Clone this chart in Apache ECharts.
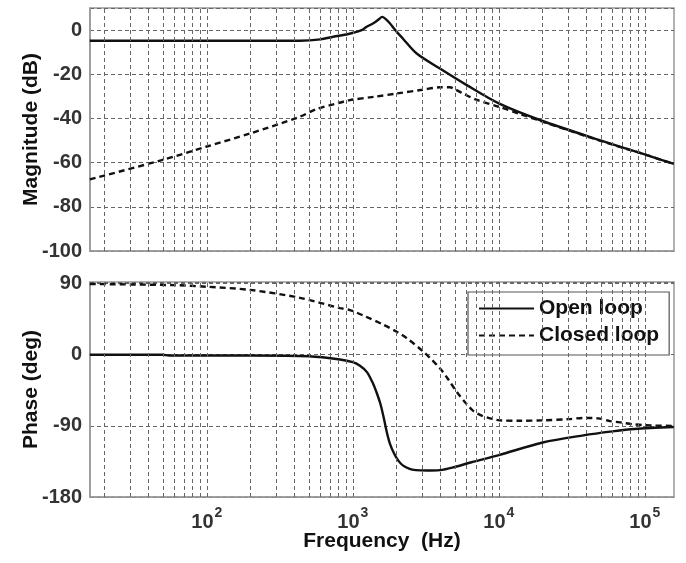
<!DOCTYPE html>
<html><head><meta charset="utf-8">
<script src="https://cdn.jsdelivr.net/npm/echarts@6/dist/echarts.min.js"></script>
<style>html,body{margin:0;padding:0;background:#fff}#c{width:686px;height:563px}</style>
</head><body><div id="c"></div>
<script>
// ---- data (frequency in Hz) ----
const magOpenFreq = [15.8, 50, 100, 200, 434, 600, 735, 900, 1007, 1150, 1245, 1400, 1500, 1590, 1660, 1800, 1900, 2000, 2200, 2740, 3950, 6030, 10000, 19100, 49000, 100000, 158000];
const magOpen     = [-4.8, -4.8, -4.8, -4.8, -4.8, -4.2, -3, -2, -1.2, 0, 1.5, 3.3, 4.8, 6.0, 5.3, 3, 1, -0.8, -3.8, -10.6, -17.4, -24.9, -33.2, -40.7, -49.8, -56.3, -60.6];

const magClosedFreq = [15.8, 49, 100, 198, 434, 563, 750, 955, 1400, 2000, 3000, 3950, 4630, 5000, 5700, 7000, 10000, 14000, 19100, 49000, 100000, 158000];
const magClosed     = [-67.6, -58.9, -52.7, -46.8, -39.2, -35.8, -33.5, -31.7, -30.2, -28.7, -27, -25.9, -25.9, -26.8, -28.7, -31.5, -34.7, -38, -41, -50, -56.3, -60.6];

const phOpenFreq = [15.8, 50, 55, 200, 500, 817, 1000, 1120, 1250, 1380, 1470, 1550, 1630, 1710, 1800, 1930, 2050, 2200, 2450, 2700, 3200, 3950, 5000, 6500, 10000, 20000, 38000, 60000, 85000, 158000];
const phOpen     = [0, 0, -1, -1, -2, -6, -9.5, -14, -22, -37, -50, -63, -80, -98, -113, -126, -134, -140, -144.5, -146, -146.5, -146, -142, -136, -127, -111, -102, -97, -94, -91.5];

const phClosedFreq = [15.8, 60, 100, 198, 434, 817, 957, 1200, 1618, 2000, 2340, 3040, 3500, 3950, 4500, 5150, 6000, 6680, 7500, 8710, 10190, 14000, 20000, 30000, 38000, 48000, 58000, 70000, 83400, 110000, 158000];
const phClosed     = [89.5, 88, 86, 82, 72, 59, 56.5, 49, 38, 29, 21, 4, -7, -17, -31, -47, -62, -71, -76.5, -80.5, -83, -83.5, -83, -81.5, -80, -80.5, -84, -86, -88, -89.5, -90];

const seriesNames = ['Open loop', 'Closed loop'];
const magTicks = [-100, -80, -60, -40, -20, 0];
const phaseTicks = [-180, -90, 0, 90];
const fMin = 15.85, fMax = 158490;

// vertical grid frequencies (1..9 x 10^k inside range)
const gridFreqs = [];
for (let k = 1; k <= 5; k++) for (let m = 1; m <= 9; m++) {
  const f = m * Math.pow(10, k);
  if (f > fMin && f < fMax) gridFreqs.push(f);
}

const pair = (fs, vs) => fs.map((f, i) => [f, vs[i]]);
const FONT = '"Liberation Sans", Arial, sans-serif';
const gridLine = {type: [4, 3], color: '#666', width: 1};

const xAxisBase = {
  type: 'log', logBase: 10, min: fMin, max: fMax,
  axisLine: {show: true, onZero: false, lineStyle: {color: '#999', width: 1.5}},
  axisTick: {show: false},
  splitLine: {show: false},
};

const option = {
  animation: false,
  backgroundColor: '#fff',
  textStyle: {fontFamily: FONT},
  grid: [
    {left: 90, top: 8, width: 584, height: 243, show: true, borderColor: '#999', borderWidth: 1.5, backgroundColor: 'transparent'},
    {left: 90, top: 282, width: 584, height: 215, show: true, borderColor: '#999', borderWidth: 1.5, backgroundColor: 'transparent'}
  ],
  xAxis: [
    Object.assign({}, xAxisBase, {gridIndex: 0, axisLabel: {show: false}}),
    Object.assign({}, xAxisBase, {
      gridIndex: 1,
      name: 'Frequency  (Hz)', nameLocation: 'middle', nameGap: 34, nameMoveOverlap: false,
      nameTextStyle: {fontSize: 21, fontWeight: 'bold', color: '#111', fontFamily: FONT},
      axisLabel: {
        show: true, margin: 9, showMinLabel: false, showMaxLabel: false,
        formatter: function (v) {
          const e = Math.log10(v);
          if (Math.abs(e - Math.round(e)) > 1e-6) return '';
          return '{b|10}{s|' + Math.round(e) + '}';
        },
        rich: {
          b: {fontSize: 20, fontWeight: 'bold', color: '#333', fontFamily: FONT, lineHeight: 26, verticalAlign: 'bottom'},
          s: {fontSize: 14, fontWeight: 'bold', color: '#333', fontFamily: FONT, lineHeight: 26, verticalAlign: 'top', padding: [0, 0, 0, 1]}
        }
      }
    })
  ],
  yAxis: [
    {
      type: 'value', gridIndex: 0, min: magTicks[0], max: 10, interval: 20,
      name: 'Magnitude (dB)', nameLocation: 'middle', nameGap: 48, nameMoveOverlap: false,
      nameTextStyle: {fontSize: 21, fontWeight: 'bold', color: '#111', fontFamily: FONT},
      axisLine: {show: true, lineStyle: {color: '#999', width: 1.5}},
      axisTick: {show: false},
      axisLabel: {fontSize: 20, fontWeight: 'bold', color: '#333', margin: 8, showMaxLabel: false,
        formatter: v => magTicks.indexOf(v) >= 0 ? String(v) : ''},
      splitLine: {show: true, lineStyle: gridLine}
    },
    {
      type: 'value', gridIndex: 1, min: phaseTicks[0], max: 92, interval: 90,
      name: 'Phase (deg)', nameLocation: 'middle', nameGap: 48, nameMoveOverlap: false,
      nameTextStyle: {fontSize: 21, fontWeight: 'bold', color: '#111', fontFamily: FONT},
      axisLine: {show: true, lineStyle: {color: '#999', width: 1.5}},
      axisTick: {show: false},
      axisLabel: {fontSize: 20, fontWeight: 'bold', color: '#333', margin: 8, showMaxLabel: false,
        formatter: v => phaseTicks.indexOf(v) >= 0 ? String(v) : ''},
      splitLine: {show: true, lineStyle: gridLine}
    }
  ],
  legend: {
    data: seriesNames, orient: 'vertical', left: 468, top: 292,
    padding: [6, 10, 9, 10], itemWidth: 55, itemHeight: 14, itemGap: 6,
    backgroundColor: '#fff', borderColor: '#555', borderWidth: 1.2, borderRadius: 0,
    selectedMode: false,
    itemStyle: {color: 'rgba(0,0,0,0)', borderWidth: 0, opacity: 0},
    textStyle: {fontSize: 21, fontWeight: 'bold', color: '#111', fontFamily: FONT}
  },
  series: [
    {type: 'line', xAxisIndex: 0, yAxisIndex: 0, data: [], z: 1, silent: true,
      markLine: {silent: true, symbol: 'none', label: {show: false}, animation: false,
        lineStyle: gridLine, data: gridFreqs.map(f => ({xAxis: f}))}},
    {type: 'line', xAxisIndex: 1, yAxisIndex: 1, data: [], z: 1, silent: true,
      markLine: {silent: true, symbol: 'none', label: {show: false}, animation: false,
        lineStyle: gridLine, data: gridFreqs.map(f => ({xAxis: f}))}},
    {name: seriesNames[0], type: 'line', xAxisIndex: 0, yAxisIndex: 0, z: 3,
      data: pair(magOpenFreq, magOpen), symbol: 'none', smooth: 0.3,
      lineStyle: {color: '#111', width: 2.4, type: 'solid'}, itemStyle: {color: '#111'}},
    {name: seriesNames[1], type: 'line', xAxisIndex: 0, yAxisIndex: 0, z: 3,
      data: pair(magClosedFreq, magClosed), symbol: 'none', smooth: 0.3,
      lineStyle: {color: '#111', width: 2.4, type: [6, 4]}, itemStyle: {color: '#111'}},
    {name: seriesNames[0], type: 'line', xAxisIndex: 1, yAxisIndex: 1, z: 3,
      data: pair(phOpenFreq, phOpen), symbol: 'none', smooth: 0.3,
      lineStyle: {color: '#111', width: 2.4, type: 'solid'}, itemStyle: {color: '#111'}},
    {name: seriesNames[1], type: 'line', xAxisIndex: 1, yAxisIndex: 1, z: 3,
      data: pair(phClosedFreq, phClosed), symbol: 'none', smooth: 0.3,
      lineStyle: {color: '#111', width: 2.4, type: [6, 4]}, itemStyle: {color: '#111'}}
  ]
};

const chart = echarts.init(document.getElementById('c'), null, {renderer: 'canvas'});
chart.setOption(option);
</script>
</body></html>
